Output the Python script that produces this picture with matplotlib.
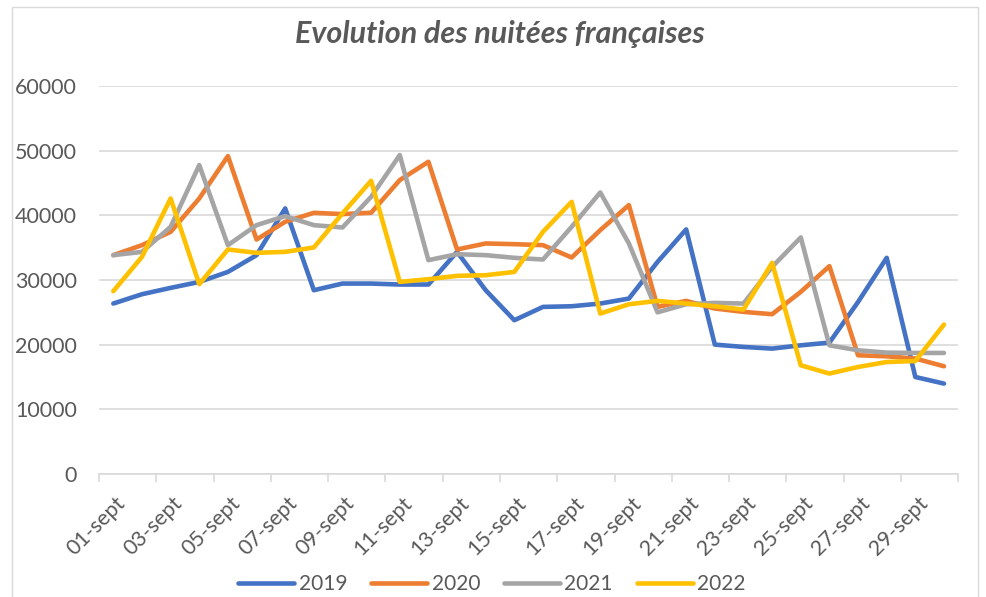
import matplotlib
matplotlib.use('Agg')
import matplotlib.pyplot as plt
import matplotlib.transforms as mtransforms
from matplotlib.patches import Rectangle

# values
days = ['%02d-sept' % d for d in range(1, 31)]
years = ['2019', '2020', '2021', '2022']
colors = ['#4472C4', '#ED7D31', '#A5A5A5', '#FFC000']

n2019 = [26360, 27800, 28780, 29700, 31250, 33840, 41070, 28420, 29450, 29450,
         29300, 29300, 34350, 28420, 23780, 25840, 25940, 26360, 27130, 32800,
         37820, 20010, 19650, 19390, 19900, 20320, 26600, 33430, 15000, 13980]
n2020 = [33840, 35390, 37450, 42610, 49160, 36260, 39000, 40390, 40190, 40400,
         45450, 48280, 34720, 35650, 35540, 35390, 33480, 37710, 41580, 25840,
         26770, 25590, 25070, 24710, 28160, 32140, 18360, 18200, 17850, 16660]
n2021 = [33840, 34350, 38220, 47770, 35390, 38480, 39880, 38480, 38120, 42860,
         49320, 33070, 33990, 33840, 33430, 33170, 38220, 43540, 35650, 25000,
         26250, 26460, 26360, 32030, 36580, 19900, 19130, 18770, 18720, 18720]
n2022 = [28270, 33580, 42610, 29350, 34720, 34200, 34350, 35030, 40290, 45340,
         29710, 30120, 30640, 30740, 31250, 37450, 42090, 24810, 26250, 26770,
         26360, 25940, 25430, 32650, 16810, 15530, 16550, 17320, 17470, 23110]
series = [n2019, n2020, n2021, n2022]

W, H = 986, 597
txt = '#595959'
grid = '#D9D9D9'

fig = plt.figure(figsize=(W / 100, H / 100), dpi=100)
fig.patches.append(Rectangle((12 / W, -0.01), (978 - 12) / W, 1 - 7 / H + 0.01,
                             transform=fig.transFigure, fill=False,
                             edgecolor=grid, linewidth=1))

ax = fig.add_axes([99 / W, 1 - 474 / H, (958.3 - 99) / W, (474 - 86) / H])
x = list(range(len(days)))
for vals, lab, c in zip(series, years, colors):
    ax.plot(x, vals, color=c, linewidth=3.3, label=lab, solid_joinstyle='round',
            solid_capstyle='round')

ax.set_xlim(-0.5, len(days) - 0.5)
ax.set_ylim(0, 60000)
ax.set_yticks(range(0, 60001, 10000))
ax.yaxis.grid(True, color=grid, linewidth=1.2)
ax.set_axisbelow(True)
for s in ['top', 'right', 'left']:
    ax.spines[s].set_visible(False)
ax.spines['bottom'].set_color(grid)
ax.spines['bottom'].set_linewidth(1.2)

ax.set_xticks(x[::2])
ax.set_xticklabels(days[::2], rotation=45, ha='right', va='top',
                   rotation_mode='anchor')
ax.set_xticks([i - 0.5 for i in range(0, len(days) + 1, 2)], minor=True)
ax.tick_params(axis='x', which='major', length=0, pad=14, labelsize=15.5,
               labelcolor=txt)
ax.tick_params(axis='x', which='minor', length=6, color=grid, width=1.2)
ax.tick_params(axis='y', length=0, pad=16, labelsize=15.5, labelcolor=txt)
shift = mtransforms.ScaledTranslation(2 / 100, 0, fig.dpi_scale_trans)
for t in ax.get_xticklabels():
    t.set_family('Lato')
    t.set_transform(t.get_transform() + shift)
for t in ax.get_yticklabels():
    t.set_family('Lato')

fig.text(500 / W, 1 - 43 / H, 'Evolution des nuitées françaises', ha='center',
         va='baseline', fontsize=22, fontstyle='italic', fontweight='bold',
         color=txt, family='Lato')

fig.legend(loc='center', bbox_to_anchor=(492 / W, 1 - 584 / H), ncol=4,
           frameon=False, handlelength=2.7, handletextpad=0.2,
           columnspacing=1.15, prop={'family': 'Lato', 'size': 15},
           labelcolor=txt)

fig.savefig('out.png', dpi=100)
